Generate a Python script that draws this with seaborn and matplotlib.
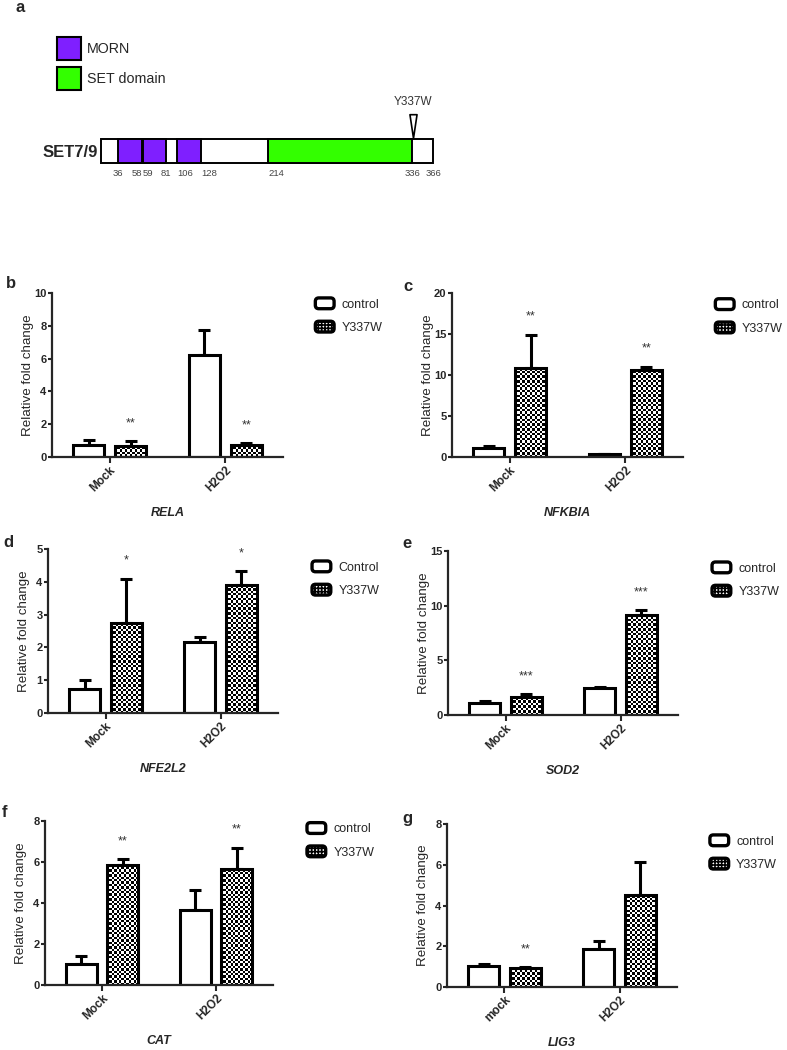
import numpy as np
import pandas as pd
import matplotlib
matplotlib.use("Agg")
import matplotlib.pyplot as plt
import seaborn as sns
from matplotlib.patches import Patch, FancyBboxPatch
from matplotlib.path import Path
from matplotlib.container import BarContainer
from matplotlib.legend_handler import HandlerPatch

# ---------------- data: panel a (SET7/9 domain map) ----------------
protein_length = 366
morn_starts = [36, 59, 106]
morn_ends = [58, 81, 128]
set_start, set_end = 214, 336
residue_ticks = [36, 58, 59, 81, 106, 128, 214, 336, 366]
mutation_site = 337
mutation_label = "Y337W"

# ---------------- data: bar panels ----------------
groups = ["control", "Y337W"]
conditions = ["Mock", "H2O2"]

rela_control = [0.75, 6.24]
rela_control_err = [0.31, 1.48]
rela_mutant = [0.69, 0.75]
rela_mutant_err = [0.27, 0.10]
rela_stars = ["**", "**"]

nfkbia_control = [1.06, 0.33]
nfkbia_control_err = [0.24, 0.07]
nfkbia_mutant = [10.85, 10.57]
nfkbia_mutant_err = [4.05, 0.41]
nfkbia_stars = ["**", "**"]

nfe2l2_control = [0.73, 2.15]
nfe2l2_control_err = [0.29, 0.17]
nfe2l2_mutant = [2.74, 3.90]
nfe2l2_mutant_err = [1.35, 0.42]
nfe2l2_stars = ["*", "*"]

sod2_control = [1.06, 2.43]
sod2_control_err = [0.22, 0.13]
sod2_mutant = [1.61, 9.19]
sod2_mutant_err = [0.28, 0.39]
sod2_stars = ["***", "***"]

cat_control = [1.02, 3.67]
cat_control_err = [0.38, 0.94]
cat_mutant = [5.83, 5.65]
cat_mutant_err = [0.31, 1.05]
cat_stars = ["**", "**"]

lig3_control = [1.01, 1.87]
lig3_control_err = [0.12, 0.37]
lig3_mutant = [0.92, 4.53]
lig3_mutant_err = [0.05, 1.59]
lig3_stars = ["**", ""]

# ---------------- style ----------------
sns.set_style("ticks")
plt.rcParams["font.family"] = ["Liberation Sans", "DejaVu Sans"]
plt.rcParams["hatch.linewidth"] = 1.2

W, H = 787, 1050
fig = plt.figure(figsize=(W / 100, H / 100), dpi=100)


def rect(l, t, r, b):
    return [l / W, 1 - b / H, (r - l) / W, (b - t) / H]


class RoundBoxHandler(HandlerPatch):
    def create_artists(self, legend, orig_handle, xdescent, ydescent, width,
                       height, fontsize, trans):
        p = FancyBboxPatch((-xdescent, -ydescent), width, height,
                           boxstyle="round,pad=0,rounding_size=2.5")
        self.update_prop(p, orig_handle, legend)
        p.set_transform(trans)
        return [p]


# ---------------- panel a ----------------
# schematic (not-to-scale) placement of residues along the drawn bar
sch_res = [1, 36, 58, 59, 81, 106, 128, 214, 336, 366]
sch_pos = [0, 17, 41, 42, 65, 76, 100, 167, 311, 332]

def fwd(x):
    return np.interp(x, sch_res, sch_pos)

def inv(y):
    return np.interp(y, sch_pos, sch_res)

axa = fig.add_axes(rect(101, 139, 433, 163))
axa.set_xscale("function", functions=(fwd, inv))
axa.set_xlim(1, protein_length)
axa.set_ylim(0, 1)
lw_a = 1.4
axa.barh(0.5, protein_length - 1, left=1, height=1, color="white",
         edgecolor="black", linewidth=lw_a, clip_on=False, zorder=1)
for s, e in zip(morn_starts, morn_ends):
    axa.barh(0.5, e - s, left=s, height=1, color="#7F1FFF",
             edgecolor="black", linewidth=lw_a, clip_on=False, zorder=2)
axa.barh(0.5, set_end - set_start, left=set_start, height=1, color="#33FF00",
         edgecolor="black", linewidth=lw_a, clip_on=False, zorder=2)
tri = Path([(-0.3, 1.0), (0.3, 1.0), (0.0, -1.0), (-0.3, 1.0)],
           [Path.MOVETO, Path.LINETO, Path.LINETO, Path.CLOSEPOLY])
axa.plot([mutation_site], [1.55], marker=tri, markersize=17, mfc="white",
         mec="black", mew=1.2, linestyle="none", clip_on=False, zorder=3)
axa.text(mutation_site, 2.55, mutation_label, ha="center", va="center",
         fontsize=8.5, color="#333333")
for sp in axa.spines.values():
    sp.set_visible(False)
axa.set_xticks(residue_ticks)
axa.set_xticklabels([str(r) for r in residue_ticks], fontsize=6.8, color="#444444")
axa.tick_params(axis="x", length=0, pad=4)
axa.xaxis.set_minor_locator(matplotlib.ticker.NullLocator())
for lab, r in zip(axa.get_xticklabels(), residue_ticks):
    if r == 58:
        lab.set_ha("right")
    elif r in (59, 106, 128, 214):
        lab.set_ha("left")
axa.set_yticks([0.5])
axa.set_yticklabels(["SET7/9"], fontsize=12, fontweight="bold")
axa.tick_params(axis="y", length=0, pad=2)

fig.legend(handles=[Patch(facecolor="#7F1FFF", edgecolor="black", lw=1.5, label="MORN"),
                    Patch(facecolor="#33FF00", edgecolor="black", lw=1.5, label="SET domain")],
           loc="upper left", bbox_to_anchor=(57 / W, 1 - 37 / H), frameon=False,
           fontsize=10.3, handlelength=1.65, handleheight=2.15, handletextpad=0.45,
           labelspacing=0.45, borderpad=0, borderaxespad=0)

fig.text(15 / W, 1 - 12 / H, "a", fontsize=12, fontweight="bold", va="baseline")


# ---------------- bar panels ----------------
CELL = 2.4  # checker cell size in pixels


def checker_fill(ax, p):
    """Fill a bar patch with a black/white checkerboard clipped to it."""
    x0, y0 = ax.transData.transform((p.get_x(), p.get_y()))
    x1, y1 = ax.transData.transform((p.get_x() + p.get_width(), p.get_y() + p.get_height()))
    nx = max(1, int(np.ceil((x1 - x0) / CELL)))
    ny = max(1, int(np.ceil((y1 - y0) / CELL)))
    board = (np.add.outer(np.arange(ny), np.arange(nx)) % 2).astype(float)
    xr = p.get_x() + nx * CELL * p.get_width() / (x1 - x0)
    yr = p.get_y() + ny * CELL * p.get_height() / (y1 - y0)
    im = ax.imshow(board, cmap="gray", vmin=0, vmax=1, origin="lower",
                   extent=(p.get_x(), xr, p.get_y(), yr), aspect="auto",
                   interpolation="nearest", zorder=1.9)
    im.set_clip_path(p)
    p.set_facecolor("none")


def draw_panel(box, letter, letter_xy, gene, cats, legend_labels, ctrl, ctrl_err,
               mut, mut_err, stars, ymax, ystep, leg_anchor):
    ax = fig.add_axes(rect(*box))
    width_px = box[2] - box[0]
    df = pd.DataFrame({
        "condition": cats * 2,
        "group": [legend_labels[0]] * len(cats) + [legend_labels[1]] * len(cats),
        "value": list(ctrl) + list(mut),
    })
    sns.barplot(data=df, x="condition", y="value", hue="group", order=cats,
                hue_order=legend_labels, palette=["white", "white"], saturation=1,
                edgecolor="black", linewidth=2.2, width=0.73, gap=0.26,
                errorbar=None, legend=False, ax=ax, zorder=2)
    ax.set_xlim(-0.5, len(cats) - 0.5)
    ax.set_ylim(0, ymax)
    bar_conts = [c for c in ax.containers if isinstance(c, BarContainer)]
    errs = [ctrl_err, mut_err]
    for k, cont in enumerate(bar_conts):
        for i, p in enumerate(cont.patches):
            if k == 1:
                checker_fill(ax, p)
            xc = p.get_x() + p.get_width() / 2
            h = p.get_height()
            ax.errorbar([xc], [h], yerr=[[0], [errs[k][i]]], fmt="none",
                        ecolor="black", elinewidth=2.2, capsize=4.5, capthick=2.2,
                        zorder=1, clip_on=False)
            if k == 1 and stars[i]:
                ax.text(xc, h + errs[k][i] + 0.11 * ymax, stars[i], ha="center",
                        va="center", fontsize=9, color="#333333")
    ax.set_xlim(-0.5, len(cats) - 0.5)
    ax.set_ylim(0, ymax)
    ticks = np.arange(0, ymax + 0.001, ystep)
    ax.set_yticks(ticks)
    ax.set_yticklabels([f"{v:g}" for v in ticks], fontsize=8, fontweight="bold")
    ax.set_xticks(range(len(cats)))
    ax.set_xticklabels(cats, fontsize=8.5, fontweight="bold", rotation=45,
                       ha="right", va="top", rotation_mode="anchor")
    ax.tick_params(axis="y", length=3, width=1.5, pad=1)
    ax.tick_params(axis="x", length=4, width=1.5, pad=1)
    sns.despine(ax=ax)
    ax.spines["left"].set_linewidth(1.6)
    ax.spines["bottom"].set_linewidth(1.6)
    ax.set_xlabel("")
    ax.set_ylabel("Relative fold change", fontsize=9.6)
    ax.yaxis.set_label_coords(-18 / width_px, 0.5)
    ax.annotate(gene, xy=(0.5, 0), xycoords="axes fraction", xytext=(0, -40),
                textcoords="offset points", ha="center", va="center",
                fontsize=9, fontweight="bold", fontstyle="italic")
    handles = [Patch(facecolor="white", edgecolor="black", lw=2.4, label=legend_labels[0]),
               Patch(facecolor="white", edgecolor="black", lw=2.4, hatch="+++++",
                     label=legend_labels[1])]
    ax.legend(handles=handles, loc="upper left", bbox_to_anchor=leg_anchor,
              frameon=False, fontsize=9, handlelength=1.5, handleheight=0.95,
              handletextpad=0.6, labelspacing=0.85, borderpad=0, borderaxespad=0,
              handler_map={Patch: RoundBoxHandler()})
    fig.text(letter_xy[0] / W, 1 - letter_xy[1] / H, letter, fontsize=12,
             fontweight="bold", va="baseline")
    return ax


draw_panel((52, 293, 283, 457), "b", (6, 288), "RELA", conditions, groups,
           rela_control, rela_control_err, rela_mutant, rela_mutant_err, rela_stars,
           10, 2, (1.14, 0.97))
draw_panel((452, 293, 683, 457), "c", (403, 291), "NFKBIA", conditions, groups,
           nfkbia_control, nfkbia_control_err, nfkbia_mutant, nfkbia_mutant_err,
           nfkbia_stars, 20, 5, (1.14, 0.965))
draw_panel((48, 549, 278, 713), "d", (3, 547), "NFE2L2", conditions, ["Control", "Y337W"],
           nfe2l2_control, nfe2l2_control_err, nfe2l2_mutant, nfe2l2_mutant_err,
           nfe2l2_stars, 5, 1, (1.148, 0.927))
draw_panel((448, 551, 678, 715), "e", (402, 548), "SOD2", conditions, groups,
           sod2_control, sod2_control_err, sod2_mutant, sod2_mutant_err, sod2_stars,
           15, 5, (1.148, 0.933))
draw_panel((45, 821, 273, 985), "f", (2, 817), "CAT", conditions, groups,
           cat_control, cat_control_err, cat_mutant, cat_mutant_err, cat_stars,
           8, 2, (1.149, 0.99))
draw_panel((447, 824, 677, 987), "g", (402, 823), "LIG3", ["mock", "H2O2"], groups,
           lig3_control, lig3_control_err, lig3_mutant, lig3_mutant_err, lig3_stars,
           8, 2, (1.143, 0.933))

fig.savefig("out.png", dpi=100)
